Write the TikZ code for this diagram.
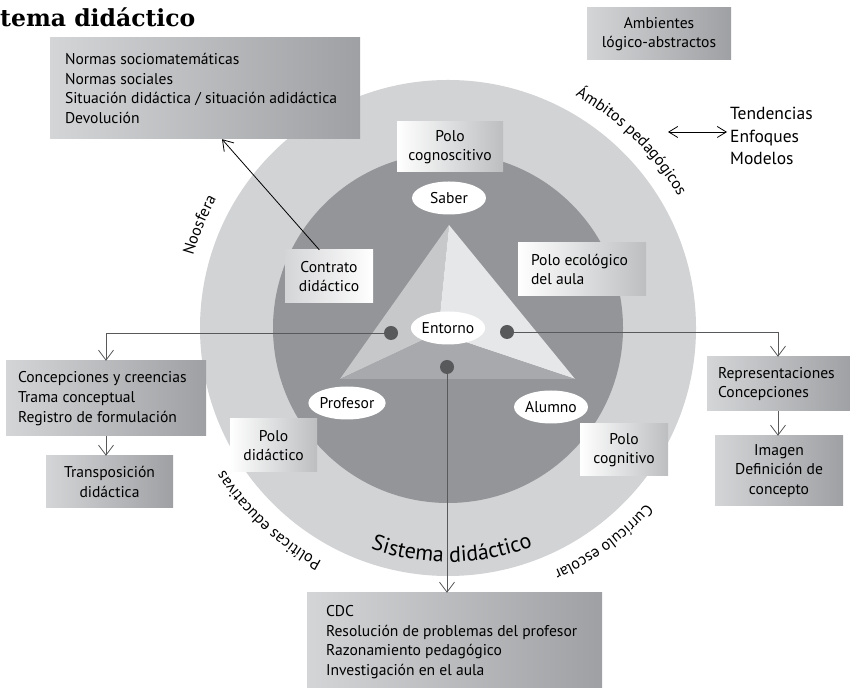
\documentclass[tikz,border=0pt]{standalone}
\usepackage{fontspec}
\setmainfont{PT Sans}
\newfontfamily\titlefont{DejaVu Serif}
\usetikzlibrary{arrows.meta,decorations.text,shapes.geometric,positioning}
\newcommand\bodysize{\fontsize{15.6}{19.7}\selectfont}
\newcommand\arcsize{\fontsize{16}{18}\selectfont}
\newcommand\sissize{\fontsize{22}{24}\selectfont}
\definecolor{ringgray}{RGB}{209,211,212}
\definecolor{coregray}{RGB}{147,149,152}
\definecolor{trileft}{RGB}{199,200,202}
\definecolor{triright}{RGB}{230,231,232}
\definecolor{tribot}{RGB}{167,169,172}
\definecolor{dotgray}{RGB}{88,89,91}
\definecolor{boxl}{RGB}{212,213,215}
\definecolor{boxr}{RGB}{158,160,163}
\definecolor{polr}{RGB}{188,190,192}
\tikzset{
    gbox/.style={rectangle,left color=boxl,right color=boxr,inner sep=0pt,font=\bodysize,align=center},
    pbox/.style={rectangle,left color=white,right color=polr,inner sep=0pt,font=\bodysize,align=center},
    txt/.style={anchor=west,inner sep=0pt,font=\bodysize,align=left},
    conn/.style={draw=dotgray,line width=0.8pt,-{Straight Barb[length=10pt,width=15pt]}},
    barr/.style={draw=black,line width=0.8pt,{Straight Barb[length=9pt,width=11pt]}-{Straight Barb[length=9pt,width=11pt]}},
    arcl/.style={decorate,decoration={text along path,text align=center,text={|\arcsize|#1}}}
}

\begin{document}
\begin{tikzpicture}[x=1pt,y=1pt]
    \useasboundingbox (0,0) rectangle (850,687);
    \clip (0,0) rectangle (850,687);

    \fill [ringgray] (448,359) circle (248);
    \fill [coregray] (448,359) circle (175);

    \coordinate (top) at (449,462);
    \coordinate (bl) at (340,308);
    \coordinate (br) at (575,308);
    \coordinate (mid) at (438,354);
    \fill [trileft] (top) -- (bl) -- (mid) -- cycle;
    \fill [triright] (top) -- (mid) -- (br) -- cycle;
    \fill [tribot] (bl) -- (br) -- (mid) -- cycle;

    \node [anchor=base west,inner sep=0pt,font=\titlefont\bfseries\fontsize{23.5}{26}\selectfont] (title) at (0,660) {tema didáctico};

    \begin{scope}[shift={(448,359)}]
        \path [arcl=Noosfera] (190:265) arc [start angle=190,end angle=125,radius=265];
        \path [arcl=Ámbitos pedagógicos] (80:265) arc [start angle=80,end angle=11,radius=265];
        \path [arcl=Políticas educativas] (262:265) arc [start angle=262,end angle=192,radius=265];
        \path [arcl=Currículo escolar] (341:265) arc [start angle=341,end angle=271,radius=265];
        \path [decorate,decoration={text along path,text align=center,text={|\sissize|Sistema didáctico}}]
            (236:234) arc [start angle=236,end angle=306,radius=234];
    \end{scope}

    \node [gbox,minimum width=310,minimum height=101] (normas) at (205,598.5) {};
    \node [txt] (normas-t) at ([xshift=15pt]normas.west)
        {Normas sociomatemáticas\\Normas sociales\\Situación didáctica / situación adidáctica\\Devolución};
    \node [gbox,minimum width=144,minimum height=52] (amb) at (659,653)
        {Ambientes\\lógico-abstractos};
    \node [anchor=west,inner sep=3pt,font=\fontsize{17.5}{22.5}\selectfont,align=left] (tend) at (727,551)
        {Tendencias\\Enfoques\\Modelos};
    \coordinate (ambito) at (668,555);
    \draw [barr] (ambito) -- (ambito -| tend.west);

    \node [pbox,minimum width=106,minimum height=50] (pcog) at (450,540) {Polo\\cognoscitivo};
    \node [pbox,minimum width=128,minimum height=53] (peco) at (582,417.5) {};
    \node [txt] (peco-t) at ([xshift=13pt]peco.west) {Polo ecológico\\del aula};
    \node [pbox,left color=boxl,right color=white,minimum width=88,minimum height=53] (contrato) at (329,410.5)
        {Contrato\\didáctico};
    \node [pbox,minimum width=87,minimum height=53] (pdid) at (273.5,241.5) {Polo\\didáctico};
    \node [pbox,minimum width=88,minimum height=52] (pcogn) at (624,237) {Polo\\cognitivo};

    \node [gbox,minimum width=200,minimum height=75] (conc) at (106,288.5) {};
    \node [txt] (conc-t) at ([xshift=12pt]conc.west)
        {Concepciones y creencias\\Trama conceptual\\Registro de formulación};
    \node [gbox,minimum width=127,minimum height=52] (trans) at (109.5,205)
        {Transposición\\didáctica};
    \node [gbox,minimum width=146,minimum height=54] (rep) at (780,303) {};
    \node [txt] (rep-t) at ([xshift=11pt]rep.west) {Representaciones\\Concepciones};
    \node [gbox,minimum width=128,minimum height=70] (imagen) at (779,216)
        {Imagen\\Definición de\\concepto};
    \node [gbox,minimum width=295,minimum height=100] (cdc) at (454.5,44) {};
    \node [txt] (cdc-t) at ([xshift=19pt,yshift=1pt]cdc.west)
        {CDC\\Resolución de problemas del profesor\\Razonamiento pedagógico\\Investigación en el aula};

    \begin{scope}[
        every node/.style={ellipse,fill=white,inner sep=0pt,minimum width=74,minimum height=33,font=\bodysize}
    ]
        \node (saber) at (449,489) {Saber};
        \node (entorno) at (448,359) {Entorno};
        \node (profesor) at (347,284) {Profesor};
        \node (alumno) at (551,280) {Alumno};
    \end{scope}

    \begin{scope}[
        every node/.style={circle,fill=dotgray,inner sep=0pt,minimum size=14}
    ]
        \node (ldot) at (391,354) {};
        \node (rdot) at (507,355) {};
        \node (bdot) at (447,320) {};
    \end{scope}

    \draw [conn] (ldot) -| (conc.north);
    \draw [conn] (conc.south) -- (conc.south |- trans.north);
    \draw [conn] (rdot) -| ([xshift=-2pt]rep.north);
    \draw [conn] ([xshift=-2pt]rep.south) -- ([xshift=-2pt]rep.south |- imagen.north);
    \draw [conn] (bdot) -- (bdot |- cdc.north);
    \draw [draw=black,line width=0.8pt,-{Straight Barb[length=10pt,width=13pt]}] (contrato.110) -- ([xshift=17pt]normas.south);
\end{tikzpicture}
\end{document}
